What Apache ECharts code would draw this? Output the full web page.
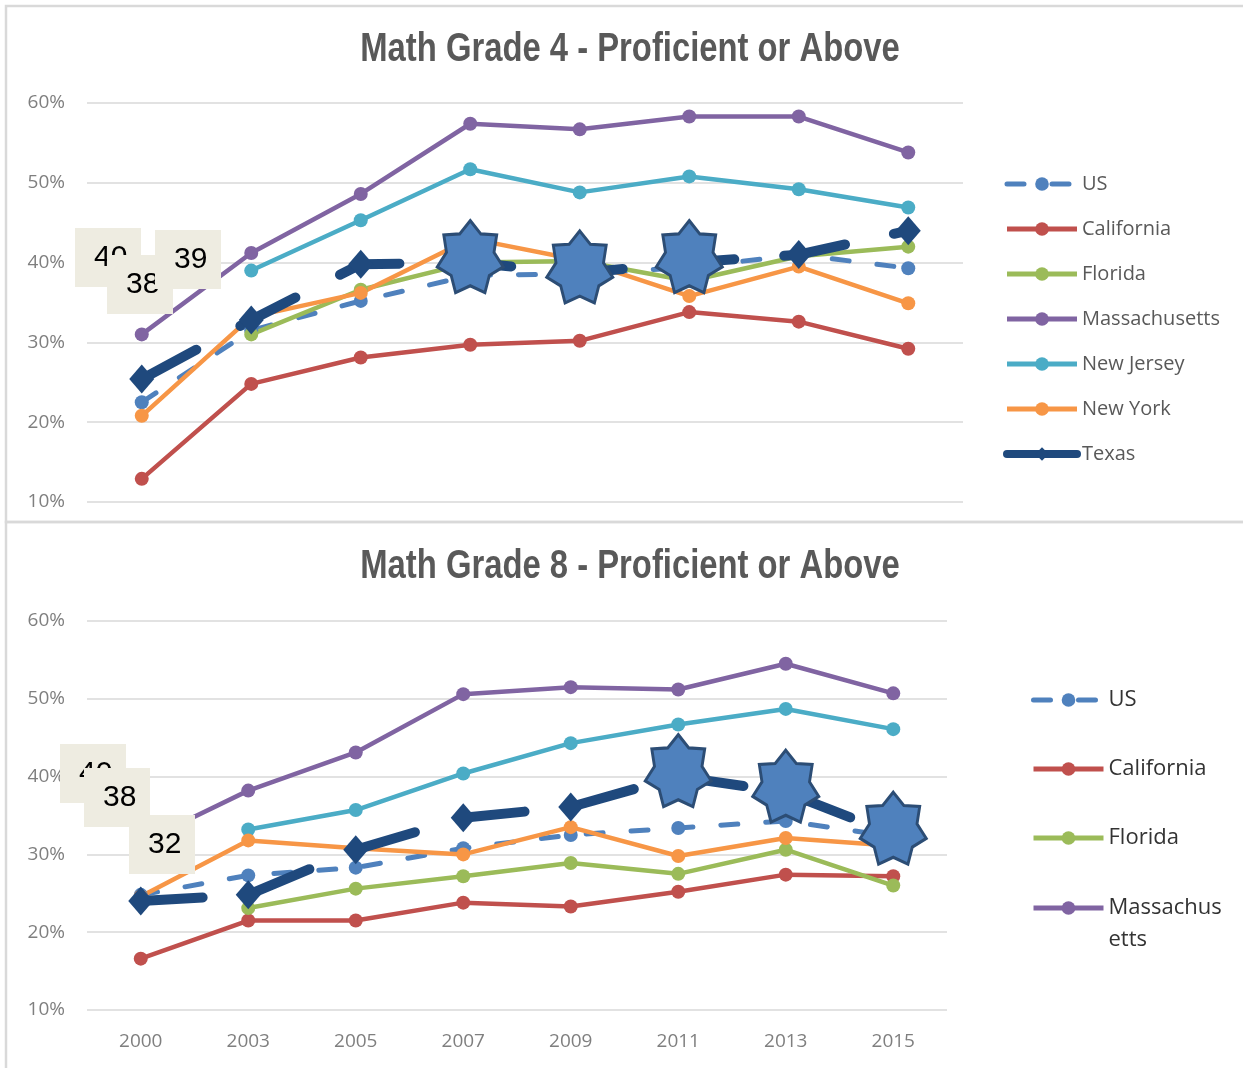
<!DOCTYPE html>
<html>
<head>
<meta charset="utf-8">
<script src="https://cdn.jsdelivr.net/npm/echarts@6/dist/echarts.min.js"></script>
<style>
html, body { margin: 0; padding: 0; background: #fff; }
#main { width: 1243px; height: 1068px; }
</style>
</head>
<body>
<div id="main"></div>
<script>
// NAEP % proficient or above
var years = ['2000', '2003', '2005', '2007', '2009', '2011', '2013', '2015'];
var stateNames = ['US', 'California', 'Florida', 'Massachusetts', 'New Jersey', 'New York', 'Texas'];

var g4US = [22.5, 31.5, 35.2, 38.4, 38.6, 39.4, 41.0, 39.3];
var g4California = [12.9, 24.8, 28.1, 29.7, 30.2, 33.8, 32.6, 29.2];
var g4Florida = [null, 31.0, 36.6, 40.0, 40.2, 37.7, 40.8, 42.0];
var g4Massachusetts = [31.0, 41.2, 48.6, 57.4, 56.7, 58.3, 58.3, 53.8];
var g4NewJersey = [null, 39.0, 45.3, 51.7, 48.8, 50.8, 49.2, 46.9];
var g4NewYork = [20.8, 33.2, 36.2, 43.0, 40.3, 35.8, 39.5, 34.9];
var g4Texas = [25.4, 32.8, 39.8, 40.0, 38.7, 40.0, 41.0, 44.0];

var g8US = [24.8, 27.3, 28.3, 30.8, 32.5, 33.4, 34.3, 32.3];
var g8California = [16.6, 21.5, 21.5, 23.8, 23.3, 25.2, 27.4, 27.2];
var g8Florida = [null, 23.1, 25.6, 27.2, 28.9, 27.5, 30.6, 26.0];
var g8Massachusetts = [31.5, 38.2, 43.1, 50.6, 51.5, 51.2, 54.5, 50.7];
var g8NewJersey = [null, 33.2, 35.7, 40.4, 44.3, 46.7, 48.7, 46.1];
var g8NewYork = [24.6, 31.8, 30.8, 30.0, 33.5, 29.8, 32.1, 31.1];
var g8Texas = [24.0, 24.8, 30.6, 34.7, 36.1, 40.0, 38.0, 32.6];

// years highlighted with a star on the Texas line
var starYearsG4 = ['2007', '2009', '2011'];
var starYearsG8 = ['2011', '2013', '2015'];

// the pasted note boxes
var boxLabelsG4 = ['40', '38', '39'];
var boxLabelsG8 = ['40', '38', '32'];

var yTicks = [10, 20, 30, 40, 50, 60];

var titles = ['Math Grade 4 - Proficient or Above', 'Math Grade 8 - Proficient or Above'];

var colors = {
	'US': '#4f81bd',
	'California': '#c0504d',
	'Florida': '#9bbb59',
	'Massachusetts': '#8064a2',
	'New Jersey': '#4bacc6',
	'New York': '#f79646',
	'Texas': '#1f497d'
};

var grade4 = [g4US, g4California, g4Florida, g4Massachusetts, g4NewJersey, g4NewYork, g4Texas];
var grade8 = [g8US, g8California, g8Florida, g8Massachusetts, g8NewJersey, g8NewYork, g8Texas];

// 7 point star, like the excel shape
function starPath(points, inner) {
	var d = '';
	for (var i = 0; i < points * 2; i++) {
		var r = i % 2 === 0 ? 100 : 100 * inner;
		var a = -Math.PI / 2 + i * Math.PI / points;
		d += (i === 0 ? 'M' : 'L') + (r * Math.cos(a)).toFixed(2) + ' ' + (r * Math.sin(a)).toFixed(2) + ' ';
	}
	return 'path://' + d + 'Z';
}
var STAR = starPath(7, 0.72);

function makeLine(name, data, idx) {
	var s = {
		name: name,
		type: 'line',
		data: data,
		xAxisIndex: idx,
		yAxisIndex: idx,
		symbol: 'circle',
		symbolSize: 14,
		showAllSymbol: true,
		lineStyle: { width: 4.5, color: colors[name] },
		itemStyle: { color: colors[name] },
		emphasis: { disabled: true },
		animation: false
	};
	if (name === 'US') {
		s.lineStyle.type = [17, 28];
		s.lineStyle.cap = 'round';
		s.lineStyle.width = 5;
	}
	if (name === 'Texas') {
		s.symbol = 'diamond';
		s.symbolSize = [25, 29];
		s.lineStyle.width = 10;
		s.lineStyle.type = [62, 50];
		s.lineStyle.cap = 'round';
	}
	return s;
}

function makeStars(starYears, texas, idx) {
	return {
		type: 'scatter',
		xAxisIndex: idx,
		yAxisIndex: idx,
		symbol: STAR,
		symbolSize: [66, 72],
		symbolOffset: [0, -6],
		symbolKeepAspect: false,
		data: starYears.map(function (y) {
			return [y, texas[years.indexOf(y)]];
		}),
		itemStyle: { color: '#4f81bd', borderColor: '#2c4d75', borderWidth: 3, opacity: 1 },
		emphasis: { disabled: true },
		z: 5,
		animation: false
	};
}

function noteBox(label, x, y, z) {
	return {
		type: 'group',
		z: z,
		children: [{
			type: 'rect',
			z: z,
			shape: { x: x, y: y, width: 66, height: 59 },
			style: { fill: '#eeece1' }
		}, {
			type: 'text',
			z: z,
			style: {
				text: label,
				x: x + 19,
				y: y + 30,
				verticalAlign: 'middle',
				font: '30px "Liberation Sans", sans-serif',
				fill: '#000'
			}
		}]
	};
}

// excel title is a condensed bold face, so squeeze it horizontally
function chartTitle(text, cy) {
	return {
		type: 'text',
		x: 630,
		y: cy,
		scaleX: 0.82,
		z: 50,
		style: {
			text: text,
			x: 0,
			y: 0,
			align: 'center',
			verticalAlign: 'middle',
			font: 'bold 40px "Liberation Sans", sans-serif',
			fill: '#595959'
		}
	};
}

var series = [];
stateNames.forEach(function (n, i) {
	series.push(makeLine(n, grade4[i], 0));
});
stateNames.forEach(function (n, i) {
	series.push(makeLine(n, grade8[i], 1));
});
series.push(makeStars(starYearsG4, g4Texas, 0));
series.push(makeStars(starYearsG8, g8Texas, 1));

var axisLabelStyle = {
	fontFamily: '"Open Sans"',
	fontSize: 19,
	color: '#7f7f7f'
};

function yAxis(idx) {
	return {
		type: 'value',
		gridIndex: idx,
		min: yTicks[0],
		max: yTicks[yTicks.length - 1],
		interval: 10,
		axisLine: { show: false },
		axisTick: { show: false },
		axisLabel: Object.assign({ formatter: '{value}%', margin: 22 }, axisLabelStyle),
		splitLine: { lineStyle: { color: '#d9d9d9', width: 1.5 } }
	};
}

function legendItem(n) {
	if (n === 'Texas') return { name: n, lineStyle: { type: 'solid', width: 8 } };
	return { name: n, lineStyle: { width: 5 } };
}

var myChart = echarts.init(document.getElementById('main'), null, { renderer: 'canvas' });

var option = {
	backgroundColor: '#fff',
	animation: false,
	legend: [{
		orient: 'vertical',
		left: 1003,
		top: 174,
		padding: 0,
		itemWidth: 70,
		itemHeight: 17,
		itemGap: 25,
		data: stateNames.map(legendItem),
		textStyle: { fontFamily: '"Open Sans"', fontSize: 20, lineHeight: 20, color: '#595959' }
	}, {
		orient: 'vertical',
		left: 1031,
		top: 684,
		padding: 0,
		itemWidth: 70,
		itemHeight: 17,
		itemGap: 37,
		data: ['US', 'California', 'Florida'].map(legendItem),
		textStyle: { fontFamily: '"Open Sans"', fontSize: 22, lineHeight: 32, color: '#333' }
	}, {
		// wrapped like the cut-off excel legend; blank first line keeps the icon on "Massachus"
		orient: 'vertical',
		left: 1031,
		top: 860,
		padding: 0,
		itemWidth: 70,
		itemHeight: 17,
		data: [legendItem('Massachusetts')],
		formatter: function (n) { return ' \nMassachus\netts'; },
		textStyle: { fontFamily: '"Open Sans"', fontSize: 22, lineHeight: 32, color: '#333' }
	}],
	grid: [
		{ left: 87, top: 103, width: 876, height: 399 },
		{ left: 87, top: 621, width: 860, height: 389 }
	],
	xAxis: [{
		type: 'category',
		gridIndex: 0,
		data: years,
		axisLine: { show: false },
		axisTick: { show: false },
		axisLabel: { show: false }
	}, {
		type: 'category',
		gridIndex: 1,
		data: years,
		axisLine: { show: false },
		axisTick: { show: false },
		axisLabel: Object.assign({ margin: 22 }, axisLabelStyle)
	}],
	yAxis: [yAxis(0), yAxis(1)],
	series: series,
	graphic: [
		// panel frames
		{ type: 'rect', z: 0, shape: { x: 6, y: 6, width: 1250, height: 516 }, style: { fill: 'none', stroke: '#d9d9d9', lineWidth: 2.5 } },
		{ type: 'rect', z: 0, shape: { x: 6, y: 522, width: 1250, height: 560 }, style: { fill: 'none', stroke: '#d9d9d9', lineWidth: 2.5 } },
		chartTitle(titles[0], 50),
		chartTitle(titles[1], 567),
		noteBox(boxLabelsG4[0], 75, 228, 101),
		noteBox(boxLabelsG4[1], 107, 255, 102),
		noteBox(boxLabelsG4[2], 155, 230, 103),
		noteBox(boxLabelsG8[0], 60, 744, 101),
		noteBox(boxLabelsG8[1], 84, 768, 102),
		noteBox(boxLabelsG8[2], 129, 815, 103)
	]
};

myChart.setOption(option);
</script>
</body>
</html>
